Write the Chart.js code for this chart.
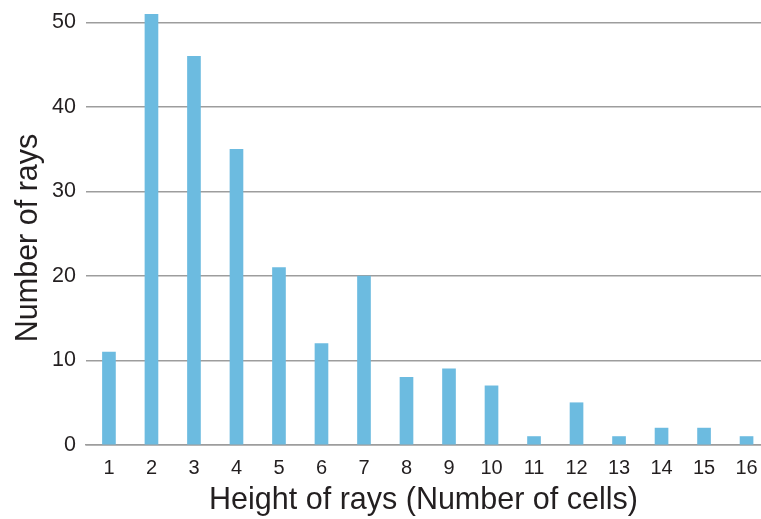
<!DOCTYPE html>
<html>
<head>
<meta charset="utf-8">
<script src="https://cdn.jsdelivr.net/npm/chart.js@4.4.0/dist/chart.umd.min.js"></script>
<style>
html,body{margin:0;padding:0;background:#fff;}
#wrap{width:761px;height:519px;position:relative;}
</style>
</head>
<body>
<div id="wrap"><canvas id="c" width="761" height="519"></canvas></div>
<script>
const categories = [1, 2, 3, 4, 5, 6, 7, 8, 9, 10, 11, 12, 13, 14, 15, 16];
const rayCounts = [11, 51, 46, 35, 21, 12, 20, 8, 9, 7, 1, 5, 1, 2, 2, 1];
const yTicks = [0, 10, 20, 30, 40, 50];
const xTitle = 'Height of rays (Number of cells)';
const yTitle = 'Number of rays';

const points = categories.map((c, i) => ({x: c, y: rayCounts[i]}));
const textColor = '#231f20';
const fontFam = '"Liberation Sans", Arial, Helvetica, sans-serif';

new Chart(document.getElementById('c'), {
  type: 'bar',
  data: {
    datasets: [{
      data: points,
      backgroundColor: '#6cbbe0',
      borderWidth: 0,
      barThickness: 13
    }]
  },
  options: {
    responsive: false,
    animation: false,
    devicePixelRatio: 1,
    layout: {padding: {top: 14, right: 0, left: 0, bottom: 0}},
    plugins: {legend: {display: false}, tooltip: {enabled: false}},
    scales: {
      x: {
        type: 'linear',
        min: 0.46,
        max: 16.34,
        offset: false,
        afterBuildTicks: (axis) => { axis.ticks = categories.map(v => ({value: v})); },
        afterFit: (axis) => { axis.height = 74; axis.paddingLeft = 0; axis.paddingRight = 0; },
        grid: {display: false, drawTicks: false},
        border: {display: true, color: '#9d9d9d', width: 1.5},
        ticks: {
          color: textColor,
          font: {family: fontFam, size: 20},
          padding: 11,
          autoSkip: false,
          maxRotation: 0
        },
        title: {
          display: true,
          text: xTitle,
          color: textColor,
          font: {family: fontFam, size: 30.5},
          padding: {top: 0, bottom: 0}
        }
      },
      y: {
        min: 0,
        max: 51,
        afterBuildTicks: (axis) => { axis.ticks = yTicks.map(v => ({value: v})); },
        afterFit: (axis) => { axis.width = 86; axis.paddingTop = 0; axis.paddingBottom = 0; },
        grid: {color: '#9d9d9d', lineWidth: 1.5, drawTicks: false},
        border: {display: false},
        ticks: {
          color: textColor,
          font: {family: fontFam, size: 21.5},
          padding: 10
        },
        title: {
          display: true,
          text: yTitle + '  ',
          color: textColor,
          font: {family: fontFam, size: 30.5},
          padding: {top: 10, bottom: 0}
        }
      }
    }
  }
});
</script>
</body>
</html>
